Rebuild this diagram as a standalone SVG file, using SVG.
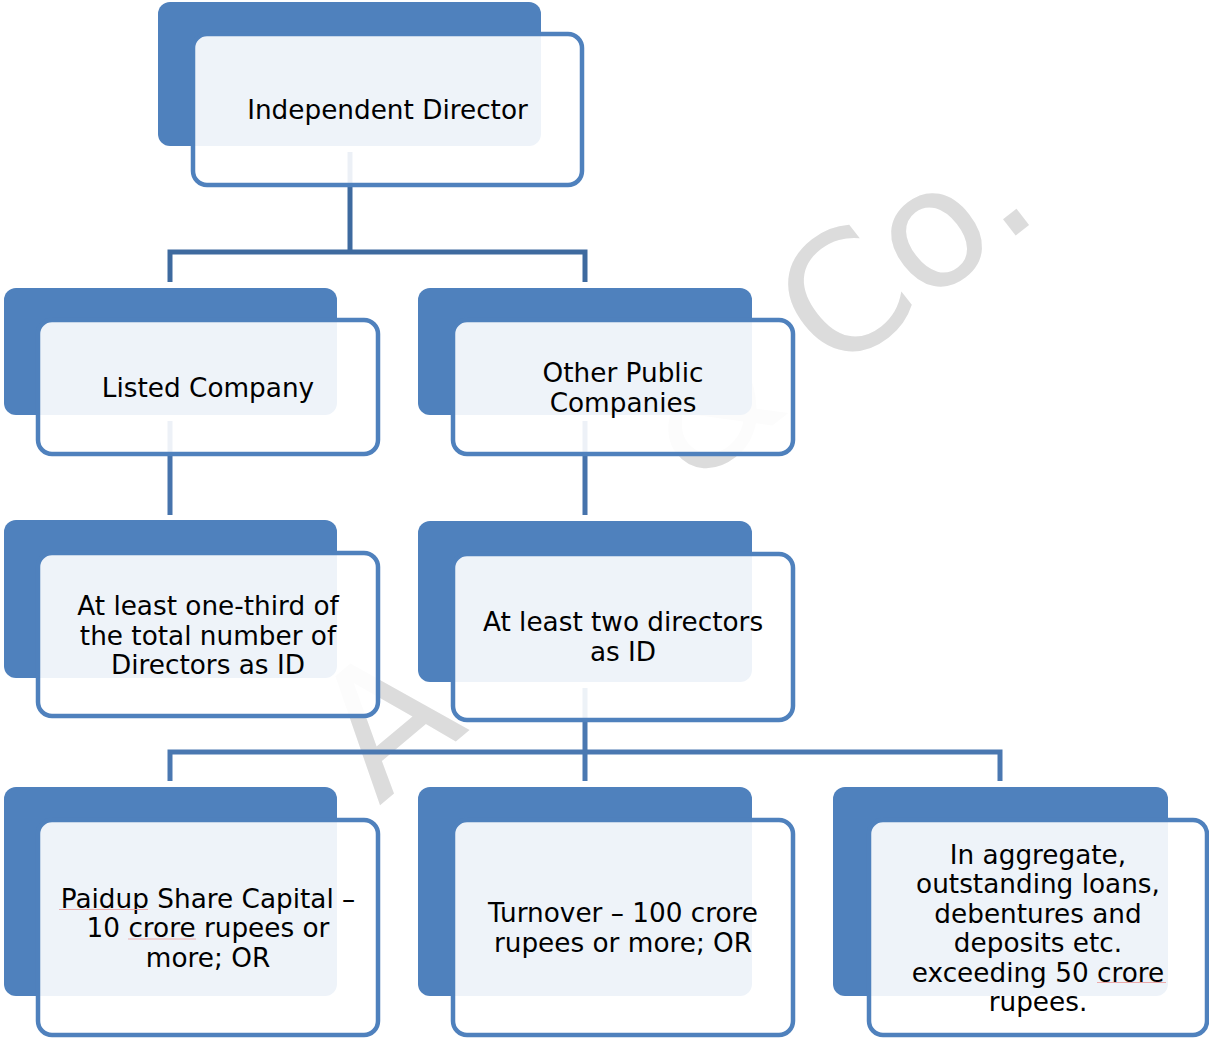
<svg xmlns="http://www.w3.org/2000/svg" width="1209" height="1038" viewBox="0 0 1209 1038">
<style>
  .back { fill: #4F81BD; }
  .front { fill: #FFFFFF; fill-opacity: 0.9; stroke: #4F81BD; stroke-width: 4.5; }
  .lbl { font-family: "DejaVu Sans", Verdana, sans-serif; font-size: 26.3px; fill: #000000; text-anchor: middle; }
  .wm { font-family: "DejaVu Sans", Verdana, sans-serif; fill: #DCDCDC; }
  .conn { fill: none; stroke-width: 5; stroke-linecap: butt; stroke-linejoin: miter; }
  .spell { stroke: #EBA9A9; stroke-width: 1; }
</style>
<rect width="1209" height="1038" fill="#FFFFFF"/>
<g id="watermark">
  <text class="wm" font-size="175" transform="translate(379,806) rotate(-40)">A</text>
  <text class="wm" font-size="165" transform="translate(691,489) rotate(-38)">&amp; Co.</text>
</g>
<g id="connectors">
  <path class="conn" stroke="#3E6A9F" d="M350,152 V252 M170,282 V252 H585 V282"/>
  <path class="conn" stroke="#4673AC" d="M170,421 V515 M585,421 V515"/>
  <path class="conn" stroke="#4A78B1" d="M585,688 V781 M170,781 V752 H1000 V781"/>
</g>
<g id="node-independent-director">
  <rect class="back" x="158" y="2" width="383" height="144" rx="12"/>
  <rect class="front" x="193" y="34" width="389" height="151" rx="14"/>
  <text class="lbl" x="387.5" y="119">Independent Director</text>
</g>
<g id="node-listed-company">
  <rect class="back" x="4" y="288" width="333" height="127" rx="12"/>
  <rect class="front" x="38" y="320" width="340" height="134" rx="14"/>
  <text class="lbl" x="208" y="396.5">Listed Company</text>
</g>
<g id="node-other-public">
  <rect class="back" x="418" y="288" width="334" height="127" rx="12"/>
  <rect class="front" x="453" y="320" width="340" height="134" rx="14"/>
  <text class="lbl" x="623" y="381.5">Other Public</text>
  <text class="lbl" x="623" y="411.5">Companies</text>
</g>
<g id="node-one-third">
  <rect class="back" x="4" y="520" width="333" height="158" rx="12"/>
  <rect class="front" x="38" y="553" width="340" height="163" rx="14"/>
  <text class="lbl" x="208" y="615">At least one-third of</text>
  <text class="lbl" x="208" y="644.5">the total number of</text>
  <text class="lbl" x="208" y="674">Directors as ID</text>
</g>
<g id="node-two-directors">
  <rect class="back" x="418" y="521" width="334" height="161" rx="12"/>
  <rect class="front" x="453" y="554" width="340" height="166" rx="14"/>
  <text class="lbl" x="623" y="631">At least two directors</text>
  <text class="lbl" x="623" y="660.5">as ID</text>
</g>
<g id="node-paidup">
  <rect class="back" x="4" y="787" width="333" height="209" rx="12"/>
  <rect class="front" x="38" y="820" width="340" height="215" rx="14"/>
  <text class="lbl" x="208" y="907.5">Paidup Share Capital –</text>
  <text class="lbl" x="208" y="937">10 crore rupees or</text>
  <text class="lbl" x="208" y="966.5">more; OR</text>
  <line class="spell" x1="59" y1="909.5" x2="148" y2="909.5"/>
  <line class="spell" x1="128" y1="939" x2="196" y2="939"/>
</g>
<g id="node-turnover">
  <rect class="back" x="418" y="787" width="334" height="209" rx="12"/>
  <rect class="front" x="453" y="820" width="340" height="215" rx="14"/>
  <text class="lbl" x="623" y="922">Turnover – 100 crore</text>
  <text class="lbl" x="623" y="951.5">rupees or more; OR</text>
</g>
<g id="node-aggregate">
  <rect class="back" x="833" y="787" width="335" height="209" rx="12"/>
  <rect class="front" x="869" y="820" width="338" height="215" rx="14"/>
  <text class="lbl" x="1038" y="863.5">In aggregate,</text>
  <text class="lbl" x="1038" y="893">outstanding loans,</text>
  <text class="lbl" x="1038" y="922.5">debentures and</text>
  <text class="lbl" x="1038" y="952">deposits etc.</text>
  <text class="lbl" x="1038" y="981.5">exceeding 50 crore</text>
  <text class="lbl" x="1038" y="1011">rupees.</text>
  <line class="spell" x1="1097" y1="982.5" x2="1166" y2="982.5"/>
</g>
</svg>
